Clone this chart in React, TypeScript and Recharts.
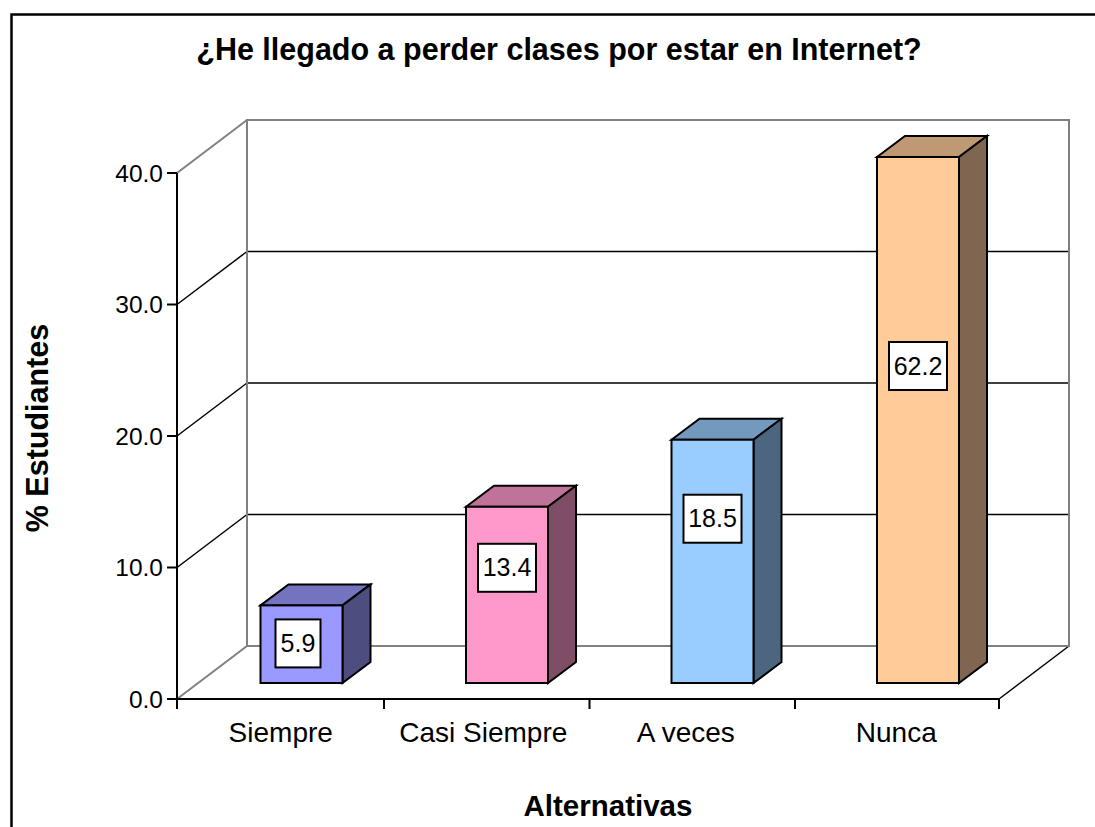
import React from "react";
import { BarChart, Bar, XAxis, YAxis, CartesianGrid, LabelList } from "recharts";

const categories = ["Siempre", "Casi Siempre", "A veces", "Nunca"];
const percentages = [5.9, 13.4, 18.5, 62.2];
const yTicks = [0, 10, 20, 30, 40];
const AXIS_MAX = 40;
const chartTitle = "¿He llegado a perder clases por estar en Internet?";
const xTitle = "Alternativas";
const yTitle = "% Estudiantes";

const frontColors = ["#9999FF", "#FF99CC", "#99CCFF", "#FFCC99"];
const topColors = ["#7373BF", "#BF7399", "#7399BF", "#BF9973"];
const sideColors = ["#4D4D80", "#804D66", "#4D6680", "#806650"];

const rows = categories.map((name, i) => ({ name, value: percentages[i] }));

const FONT = "'Liberation Sans', Arial, sans-serif";
const W = 1095;
const H = 827;
const LEFT = 177;
const RIGHT = 999;
const TOP = 173;
const BOTTOM = 699;
const WALL_DX = 70;
const WALL_DY = -53;
const BAR_DX = 28;
const BAR_DY = -21;
const BAR_SHIFT_X = 21.5;
const BAR_SHIFT_Y = -16;
const BAND = (RIGHT - LEFT) / categories.length;
const LABEL_DROP = [38, 61, 79, 209];
const TICK_NUDGE = [1, -2, -5, 0];

function Bar3D(props: any) {
  const { x, y, width, height, index } = props;
  const l = x + BAR_SHIFT_X;
  const r = l + width;
  const t = y + BAR_SHIFT_Y;
  const b = t + height;
  const common = { stroke: "#000", strokeWidth: 2, strokeLinejoin: "miter" as const };
  return (
    <g>
      <polygon
        points={`${l},${t} ${l + BAR_DX},${t + BAR_DY} ${r + BAR_DX},${t + BAR_DY} ${r},${t}`}
        fill={topColors[index]}
        {...common}
      />
      <polygon
        points={`${r},${t} ${r + BAR_DX},${t + BAR_DY} ${r + BAR_DX},${b + BAR_DY} ${r},${b}`}
        fill={sideColors[index]}
        {...common}
      />
      <rect x={l} y={t} width={width} height={height} fill={frontColors[index]} {...common} />
    </g>
  );
}

function ValueBox(props: any) {
  const { x, y, width, value, index } = props;
  const text = Number(value).toFixed(1);
  const boxW = text.length > 3 ? 58 : 45;
  const boxH = 48;
  const cx = x + BAR_SHIFT_X + width / 2 + (text.length > 3 ? 0 : -3.5);
  const cy = y + BAR_SHIFT_Y + LABEL_DROP[index];
  return (
    <g>
      <rect x={cx - boxW / 2} y={cy - boxH / 2} width={boxW} height={boxH} fill="#fff" stroke="#000" strokeWidth={2} />
      <text x={cx} y={cy + 8.5} textAnchor="middle" fontFamily={FONT} fontSize={25} fill="#000">
        {text}
      </text>
    </g>
  );
}

function GridLine(props: any) {
  const { x1, x2, y1 } = props;
  const y = y1;
  const isTop = Math.abs(y - TOP) < 1;
  const isBottom = Math.abs(y - BOTTOM) < 1;
  const grey = isTop || isBottom;
  const color = grey ? "#808080" : "#000";
  const width = grey ? 2 : 1.5;
  return (
    <g>
      {isTop && (
        <rect
          x={x1 + WALL_DX}
          y={y + WALL_DY}
          width={x2 - x1}
          height={BOTTOM - TOP}
          fill="none"
          stroke="#808080"
          strokeWidth={2}
        />
      )}
      {isBottom && (
        <line x1={x2} y1={y} x2={x2 + WALL_DX} y2={y + WALL_DY} stroke="#000" strokeWidth={1.5} />
      )}
      <line x1={x1} y1={y} x2={x1 + WALL_DX} y2={y + WALL_DY} stroke={color} strokeWidth={width} />
      <line x1={x1 + WALL_DX} y1={y + WALL_DY} x2={x2 + WALL_DX} y2={y + WALL_DY} stroke={color} strokeWidth={width} />
    </g>
  );
}

function CategoryTick(props: any) {
  const { x, payload, index } = props;
  const axisY = BOTTOM;
  const tickLeft = index === 0 ? x - BAND / 2 : x - BAND / 2 + 1.5;
  return (
    <g>
      <line x1={tickLeft} y1={axisY} x2={tickLeft} y2={axisY + 10} stroke="#000" strokeWidth={2} />
      {index === categories.length - 1 && (
        <line x1={x + BAND / 2} y1={axisY} x2={x + BAND / 2} y2={axisY + 10} stroke="#000" strokeWidth={2} />
      )}
      <text x={x + TICK_NUDGE[index]} y={axisY + 43} textAnchor="middle" fontFamily={FONT} fontSize={28} fill="#000">
        {payload.value}
      </text>
    </g>
  );
}

export default function App() {
  return (
    <div style={{ position: "absolute", left: 0, top: 0, width: W, height: H, overflow: "hidden", background: "#fff" }}>
      <BarChart
        width={W}
        height={H}
        data={rows}
        margin={{ top: TOP, right: W - RIGHT, bottom: H - BOTTOM - 60, left: LEFT - 60 }}
        barSize={82}
      >
        <rect x={11.5} y={14.5} width={1300} height={1000} fill="none" stroke="#000" strokeWidth={2.5} />
        <text x={559} y={60} textAnchor="middle" fontFamily={FONT} fontWeight="bold" fontSize={30.5} fill="#000">
          {chartTitle}
        </text>
        <text x={608} y={816} textAnchor="middle" fontFamily={FONT} fontWeight="bold" fontSize={29.5} fill="#000">
          {xTitle}
        </text>
        <text
          x={48}
          y={428}
          transform="rotate(-90 48 428)"
          textAnchor="middle"
          fontFamily={FONT}
          fontWeight="bold"
          fontSize={30.5}
          fill="#000"
        >
          {yTitle}
        </text>
        <CartesianGrid horizontal={(p: any) => <GridLine key={p.key ?? p.index} {...p} />} vertical={false} />
        <XAxis
          dataKey="name"
          height={60}
          interval={0}
          tick={<CategoryTick />}
          tickLine={false}
          axisLine={{ stroke: "#000", strokeWidth: 2 }}
        />
        <YAxis
          width={60}
          domain={[0, AXIS_MAX]}
          ticks={yTicks}
          tickFormatter={(v: number) => v.toFixed(1)}
          tick={{ fontFamily: FONT, fontSize: 24.5, fill: "#000" }}
          tickSize={10}
          tickMargin={4}
          tickLine={{ stroke: "#000", strokeWidth: 2 }}
          axisLine={{ stroke: "#000", strokeWidth: 2 }}
        />
        <Bar
          dataKey={(d: any) => Math.min(d.value, AXIS_MAX)}
          shape={<Bar3D />}
          isAnimationActive={false}
        >
          <LabelList dataKey="value" content={<ValueBox />} />
        </Bar>
      </BarChart>
    </div>
  );
}
